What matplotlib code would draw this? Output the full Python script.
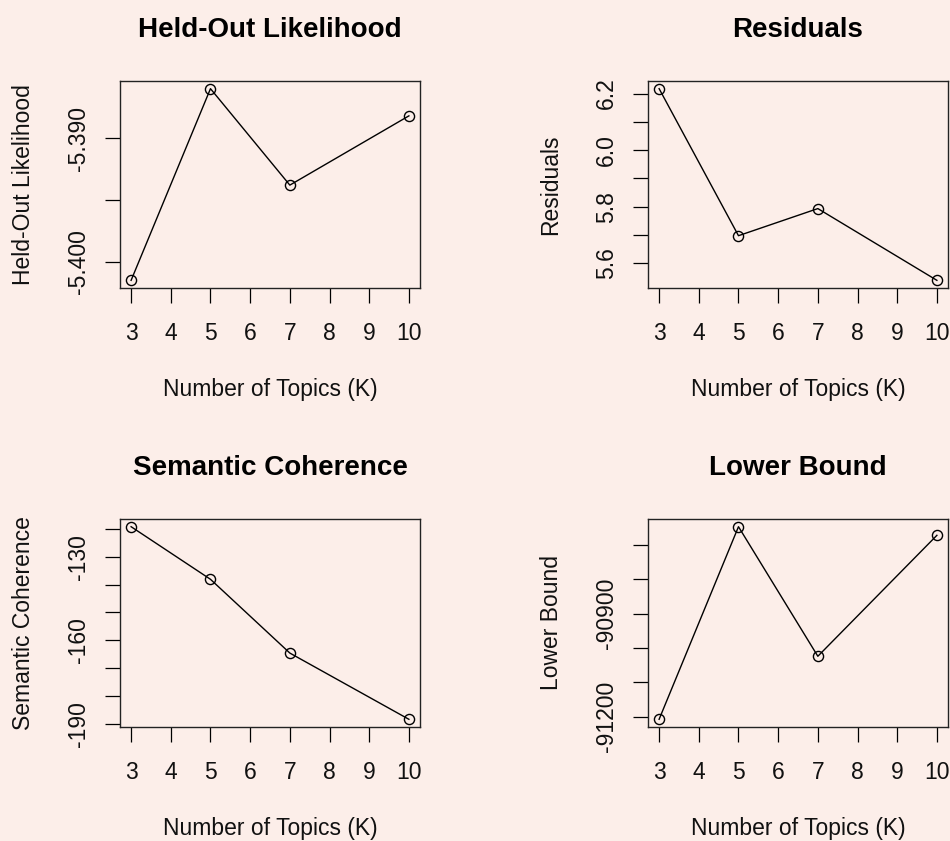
import matplotlib
matplotlib.use("Agg")
import matplotlib.pyplot as plt

# ---- data ----
K = [3, 5, 7, 10]
heldout = [-5.4015, -5.3860, -5.3938, -5.3882]
residuals = [6.2175, 5.697, 5.793, 5.539]
semcoh = [-119.2, -138.1, -164.6, -188.4]
lbound = [-91207.6, -90646.6, -91024.0, -90671.7]

x_ticks = [3, 4, 5, 6, 7, 8, 9, 10]

heldout_ticks = [-5.400, -5.395, -5.390]
heldout_labels = ["-5.400", "", "-5.390"]
resid_ticks = [5.6, 5.7, 5.8, 5.9, 6.0, 6.1, 6.2]
resid_labels = ["5.6", "", "5.8", "", "6.0", "", "6.2"]
sem_ticks = [-190, -180, -170, -160, -150, -140, -130, -120]
sem_labels = ["-190", "", "", "-160", "", "", "-130", ""]
lb_ticks = [-91200, -91100, -91000, -90900, -90800, -90700]
lb_labels = ["-91200", "", "", "-90900", "", ""]

titles = ["Held-Out Likelihood", "Residuals", "Semantic Coherence", "Lower Bound"]
ylabels = ["Held-Out Likelihood", "Residuals", "Semantic Coherence", "Lower Bound"]
xlabel = "Number of Topics (K)"

series = [heldout, residuals, semcoh, lbound]
yticks = [heldout_ticks, resid_ticks, sem_ticks, lb_ticks]
ylabs = [heldout_labels, resid_labels, sem_labels, lb_labels]

BG = "#FCEEE9"
plt.rcParams["font.family"] = ["Liberation Sans", "DejaVu Sans"]

W, H = 950, 841
fig = plt.figure(figsize=(W / 100, H / 100), dpi=100, facecolor=BG)

# axes boxes in pixels: (left, top, right, bottom)
boxes = [(120, 81, 420, 288), (648, 81, 948, 288),
         (120, 519, 420, 727), (648, 519, 948, 727)]

for i, (l, t, r, b) in enumerate(boxes):
    ax = fig.add_axes([l / W, 1 - b / H, (r - l) / W, (b - t) / H])
    ax.set_facecolor(BG)
    ax.plot(K, series[i], color="black", lw=1.0,
            marker="o", mfc="none", mec="black", ms=7.3, mew=1.0)
    ax.margins(x=0.04, y=0.04)
    ax.set_xticks(x_ticks)
    ax.set_xticklabels([str(v) for v in x_ticks])
    ax.set_yticks(yticks[i])
    ax.set_yticklabels(ylabs[i], rotation=90, va="center")
    ax.tick_params(axis="both", length=10.8, width=0.9, labelsize=16.5,
                   color="black", labelcolor="#111111")
    ax.tick_params(axis="x", pad=14)
    ax.tick_params(axis="y", pad=11)
    for sp in ax.spines.values():
        sp.set_linewidth(1.0)
        sp.set_color("#222222")
    ax.set_title(titles[i], fontsize=20, fontweight="bold", pad=32)
    ax.set_xlabel(xlabel, fontsize=16.5, color="#111111")
    ax.xaxis.label.set_va("baseline")
    ax.xaxis.set_label_coords(0.5, -108 / (b - t))
    ax.set_ylabel(ylabels[i], fontsize=16.5, color="#111111")
    ax.yaxis.label.set_va("center")
    ax.yaxis.set_label_coords(-97 / (r - l), 0.5)

fig.savefig("out.png", dpi=100, facecolor=BG)
